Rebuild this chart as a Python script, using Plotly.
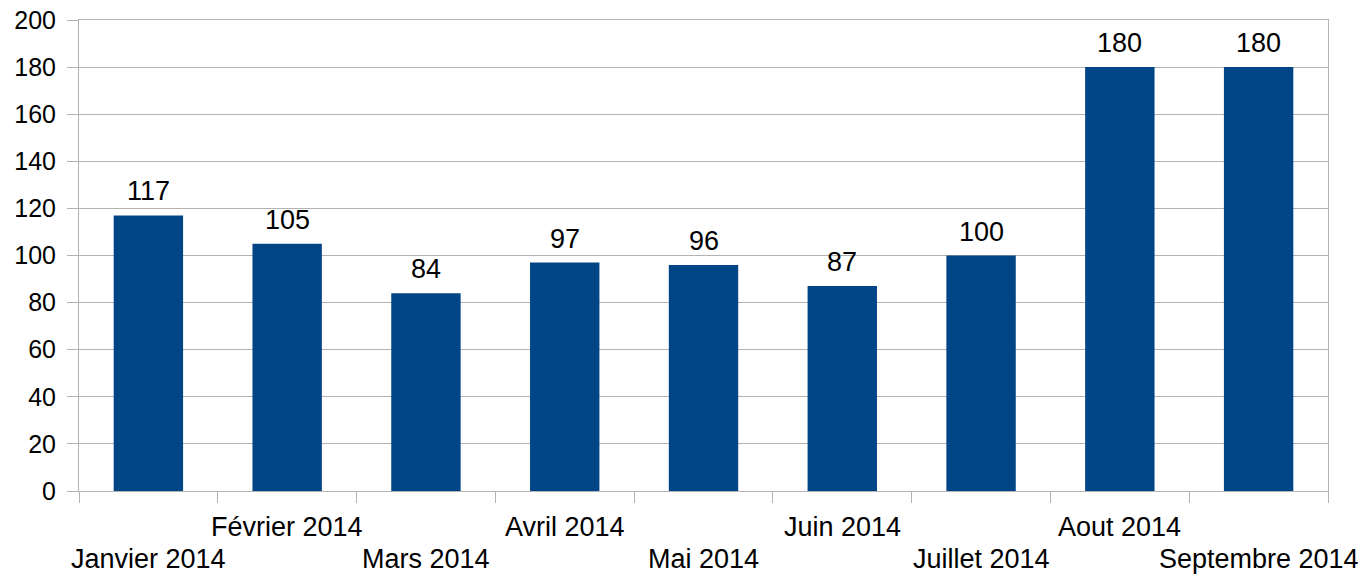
import plotly.graph_objects as go

months = ["Janvier 2014", "Février 2014", "Mars 2014", "Avril 2014", "Mai 2014",
          "Juin 2014", "Juillet 2014", "Aout 2014", "Septembre 2014"]
values = [117, 105, 84, 97, 96, 87, 100, 180, 180]
y_ticks = [0, 20, 40, 60, 80, 100, 120, 140, 160, 180, 200]

BAR = "#004586"
GRID = "#b3b3b3"
FONT = "Liberation Sans, Arial, sans-serif"

fig = go.Figure()
fig.add_trace(go.Bar(x=months, y=values, marker_color=BAR, width=0.5,
                     marker_line_width=0, hoverinfo="x+y"))

annotations = []
for m, v in zip(months, values):
    annotations.append(dict(x=m, y=v, xref="x", yref="y", text=str(v), showarrow=False,
                            yanchor="bottom", yshift=7, font=dict(size=27, color="black", family=FONT)))
for i, m in enumerate(months):
    annotations.append(dict(x=m, y=0, xref="x", yref="paper", text=m, showarrow=False,
                            yanchor="middle", yshift=(-36 if i % 2 == 1 else -68),
                            font=dict(size=27, color="black", family=FONT)))

# the page body adds an 8px margin; compensate so the plot area sits at x 79..1328, y 20..491
fig.update_layout(
    width=1358, height=568,
    margin=dict(l=71, r=38, t=12, b=85, autoexpand=False),
    paper_bgcolor="white", plot_bgcolor="white",
    showlegend=False, bargap=0.5,
    font=dict(family=FONT, size=25, color="black"),
    annotations=annotations,
)
fig.update_xaxes(type="category", range=[-0.5, len(months) - 0.5], showticklabels=False,
                 ticks="outside", tickson="boundaries",
                 ticklen=11, tickcolor=GRID, tickwidth=1, showline=True, linecolor=GRID,
                 linewidth=1, mirror=True, showgrid=False, zeroline=False, automargin=False)
fig.update_yaxes(range=[0, 200], tickvals=y_ticks, ticks="outside", ticklen=11, tickcolor=GRID,
                 showline=True, linecolor=GRID, linewidth=1, mirror=True, showgrid=True,
                 gridcolor=GRID, gridwidth=1, zeroline=False, automargin=False,
                 ticklabelstandoff=6, ticklabeloverflow="allow",
                 tickfont=dict(size=25, color="black", family=FONT))

fig.write_html("out.html")
